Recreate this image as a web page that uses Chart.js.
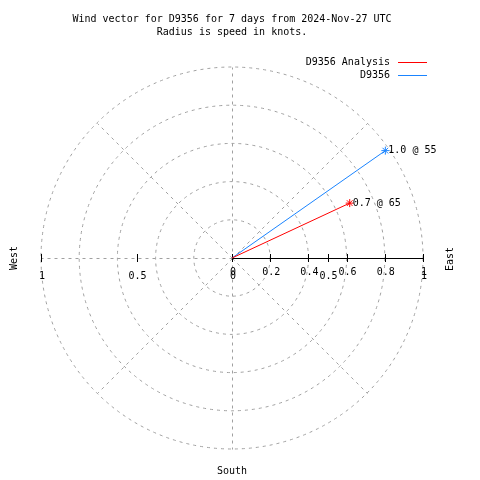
<!DOCTYPE html>
<html>
<head>
<meta charset="utf-8">
<title>Wind vector D9356</title>
<script src="https://cdn.jsdelivr.net/npm/chart.js@4.4.0/dist/chart.umd.min.js"></script>
<style>
  html, body { margin: 0; padding: 0; background: #fff; }
</style>
</head>
<body>
<canvas id="myChart" width="480" height="480"></canvas>
<script>
const titleLines = [
  "Wind vector for D9356 for 7 days from 2024-Nov-27 UTC",
  "Radius is speed in knots.",
];
const seriesNames = ["D9356 Analysis", "D9356"];
const speeds = [0.68, 0.98]; // knots
const directions = [65, 55]; // degrees, compass
const seriesColors = ["#ff0000", "#1a84ff"];
const ringValues = [0.2, 0.4, 0.6, 0.8, 1];
const spokeAngles = [0, 45, 90, 135, 180, 225, 270, 315];
const xTickValues = [0, 0.2, 0.4, 0.6, 0.8, 1];
const rTickValues = [-1, -0.5, 0, 0.5, 1];
const compassLabels = ["West", "East", "South"];

const FONT = '10px "DejaVu Sans Mono", monospace';

// speed + direction -> x/y of the vector tip
const datasets = seriesNames.map((name, i) => {
  const rad = (directions[i] * Math.PI) / 180;
  return {
    label: name,
    data: [
      { x: 0, y: 0 },
      { x: speeds[i] * Math.sin(rad), y: speeds[i] * Math.cos(rad) },
    ],
    showLine: true,
    borderColor: seriesColors[i],
    backgroundColor: seriesColors[i],
    borderWidth: 1,
    pointStyle: "star",
    pointRadius: [0, 4],
    pointBorderWidth: 1,
    speed: speeds[i],
    dir: directions[i],
  };
});

const polarGrid = {
  id: "polarGrid",
  beforeDatasetsDraw(chart) {
    const ctx = chart.ctx;
    const xs = chart.scales.x;
    const ys = chart.scales.y;
    const cx = xs.getPixelForValue(0);
    const cy = ys.getPixelForValue(0);
    const R = xs.getPixelForValue(1) - cx;

    ctx.save();
    ctx.strokeStyle = "#a0a0a0";
    ctx.lineWidth = 1;
    ctx.setLineDash([3, 4]);
    ringValues.forEach((v) => {
      const r = xs.getPixelForValue(v) - cx;
      ctx.beginPath();
      ctx.arc(cx, cy, r, 0, Math.PI * 2);
      ctx.stroke();
    });
    spokeAngles.forEach((a) => {
      const rad = (a * Math.PI) / 180;
      ctx.beginPath();
      ctx.moveTo(cx + 0.5, cy + 0.5);
      ctx.lineTo(cx + 0.5 + R * Math.sin(rad), cy + 0.5 - R * Math.cos(rad));
      ctx.stroke();
    });
    ctx.setLineDash([]);

    // solid x axis from 0 to 1
    ctx.strokeStyle = "#000";
    ctx.beginPath();
    ctx.moveTo(cx, Math.round(cy) + 0.5);
    ctx.lineTo(xs.getPixelForValue(1), Math.round(cy) + 0.5);
    ctx.stroke();
    const tick = (v) => {
      const px = Math.round(xs.getPixelForValue(v)) + 0.5;
      ctx.beginPath();
      ctx.moveTo(px, cy - 4);
      ctx.lineTo(px, cy + 4);
      ctx.stroke();
    };
    xTickValues.forEach(tick);
    rTickValues.forEach(tick);

    ctx.fillStyle = "#000";
    ctx.font = FONT;
    ctx.textAlign = "center";
    ctx.textBaseline = "middle";
    xTickValues.forEach((v) => {
      ctx.fillText(String(v), xs.getPixelForValue(v) + 1, cy + 14);
    });
    rTickValues.forEach((v) => {
      ctx.fillText(String(Math.abs(v)), xs.getPixelForValue(v) + 1, cy + 18);
    });
    ctx.restore();
  },
  afterDatasetsDraw(chart) {
    const ctx = chart.ctx;
    ctx.save();
    ctx.font = FONT;
    ctx.fillStyle = "#000";
    ctx.textAlign = "left";
    ctx.textBaseline = "middle";
    chart.data.datasets.forEach((ds, i) => {
      const tip = chart.getDatasetMeta(i).data[1];
      ctx.fillText(ds.speed.toFixed(1) + " @ " + ds.dir, tip.x + 3, tip.y);
    });
    ctx.restore();
  },
  afterDraw(chart) {
    const ctx = chart.ctx;
    const ys = chart.scales.y;
    const xs = chart.scales.x;
    const cx = xs.getPixelForValue(0);
    const cy = ys.getPixelForValue(0);
    ctx.save();
    ctx.font = FONT;
    ctx.fillStyle = "#000";
    ctx.textBaseline = "middle";

    // legend: text then line sample, right aligned
    chart.data.datasets.forEach((ds, i) => {
      const y = 62 + i * 13;
      ctx.textAlign = "right";
      ctx.fillText(ds.label, 390, y);
      ctx.strokeStyle = ds.borderColor;
      ctx.lineWidth = 1;
      ctx.beginPath();
      ctx.moveTo(398, y + 0.5);
      ctx.lineTo(427, y + 0.5);
      ctx.stroke();
    });

    // compass labels
    ctx.textAlign = "center";
    ctx.save();
    ctx.translate(14.5, cy);
    ctx.rotate(-Math.PI / 2);
    ctx.fillText(compassLabels[0], 0, 0);
    ctx.restore();
    ctx.save();
    ctx.translate(450, cy + 1);
    ctx.rotate(-Math.PI / 2);
    ctx.fillText(compassLabels[1], 0, 0);
    ctx.restore();
    ctx.fillText(compassLabels[2], cx, 471);
    ctx.restore();
  },
};

const ctx = document.getElementById("myChart").getContext("2d");
new Chart(ctx, {
  type: "scatter",
  data: { datasets: datasets },
  options: {
    responsive: false,
    animation: false,
    devicePixelRatio: 1,
    layout: { padding: { left: 41, right: 57, top: 0, bottom: 31 } },
    scales: {
      x: { type: "linear", min: -1, max: 1, display: false },
      y: { type: "linear", min: -1, max: 1, display: false },
    },
    plugins: {
      legend: { display: false },
      tooltip: { enabled: false },
      title: {
        display: true,
        text: titleLines,
        color: "#000",
        font: { family: '"DejaVu Sans Mono", monospace', size: 10, weight: "normal", lineHeight: 1.3 },
        padding: { top: 13, bottom: 28 },
      },
    },
  },
  plugins: [polarGrid],
});
</script>
</body>
</html>
